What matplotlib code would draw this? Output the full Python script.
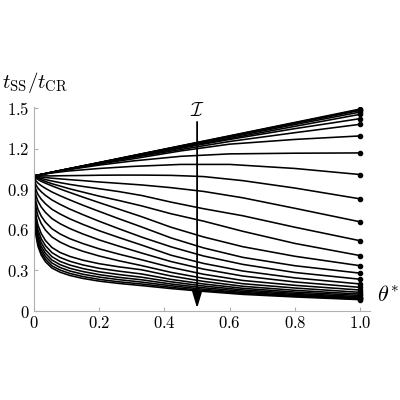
import matplotlib
matplotlib.use("Agg")
import matplotlib.pyplot as plt

plt.rcParams['mathtext.fontset'] = 'cm'
plt.rcParams['font.family'] = 'serif'
plt.rcParams['font.serif'] = ['DejaVu Serif']

# theta* positions for the curves ending above 1 (they are almost straight)
theta_up = [0, 0.003, 0.01, 0.025, 0.05, 0.1, 0.2, 0.3, 0.45, 0.6, 0.8, 1.0]

upper_curves = [
    [1, 1.0015, 1.005, 1.012, 1.025, 1.05, 1.099, 1.149, 1.223, 1.297, 1.396, 1.495],
    [1, 1.0015, 1.005, 1.012, 1.025, 1.05, 1.099, 1.148, 1.222, 1.295, 1.393, 1.49],
    [1, 1.0015, 1.005, 1.012, 1.025, 1.05, 1.098, 1.147, 1.22, 1.292, 1.389, 1.485],
    [1, 1.0015, 1.005, 1.012, 1.025, 1.049, 1.097, 1.145, 1.216, 1.286, 1.38, 1.473],
    [1, 1.0015, 1.005, 1.012, 1.024, 1.049, 1.096, 1.142, 1.21, 1.277, 1.367, 1.456],
    [1, 1.0015, 1.005, 1.012, 1.024, 1.048, 1.094, 1.14, 1.205, 1.27, 1.35, 1.424],
    [1, 1.0015, 1.005, 1.012, 1.024, 1.047, 1.091, 1.135, 1.195, 1.255, 1.32, 1.382],
    [1, 1.0015, 1.005, 1.012, 1.023, 1.046, 1.088, 1.125, 1.185, 1.235, 1.27, 1.296],
    [1, 1.001, 1.005, 1.012, 1.023, 1.044, 1.08, 1.11, 1.145, 1.163, 1.168, 1.17],
    [1, 1.001, 1.004, 1.01, 1.02, 1.035, 1.055, 1.07, 1.085, 1.085, 1.055, 1.01],
]

# theta* positions for the curves ending below 1 (denser near 0, they drop fast)
theta_low = [0, 0.002, 0.006, 0.012, 0.022, 0.035, 0.055, 0.08, 0.11, 0.15,
             0.2, 0.26, 0.33, 0.42, 0.52, 0.64, 0.8, 1.0]

lower_curves = [
    [1, 1.0, 1.0, 1.0, 1.0, 1.0, 1.0, 1.001, 1.002, 1.003, 1.005, 1.006, 1.006, 1.004, 0.995, 0.965, 0.91, 0.83],
    [1, 0.999, 0.997, 0.995, 0.992, 0.988, 0.983, 0.978, 0.972, 0.965, 0.955, 0.945, 0.933, 0.913, 0.885, 0.838, 0.76, 0.66],
    [1, 0.998, 0.994, 0.989, 0.982, 0.973, 0.962, 0.95, 0.937, 0.922, 0.905, 0.884, 0.855, 0.806, 0.757, 0.705, 0.62, 0.52],
    [1, 0.997, 0.991, 0.983, 0.972, 0.959, 0.942, 0.925, 0.904, 0.88, 0.85, 0.818, 0.778, 0.72, 0.665, 0.59, 0.50, 0.41],
    [1, 0.991, 0.982, 0.973, 0.960, 0.946, 0.926, 0.903, 0.877, 0.843, 0.802, 0.754, 0.698, 0.62, 0.548, 0.476, 0.405, 0.335],
    [1, 0.980, 0.963, 0.947, 0.928, 0.908, 0.881, 0.853, 0.822, 0.783, 0.737, 0.683, 0.622, 0.541, 0.467, 0.397, 0.335, 0.28],
    [1, 0.963, 0.934, 0.910, 0.883, 0.856, 0.822, 0.789, 0.754, 0.713, 0.664, 0.609, 0.547, 0.475, 0.407, 0.345, 0.285, 0.235],
    [1, 0.940, 0.897, 0.863, 0.828, 0.794, 0.753, 0.718, 0.682, 0.641, 0.594, 0.544, 0.488, 0.413, 0.352, 0.296, 0.245, 0.20],
    [1, 0.915, 0.856, 0.813, 0.770, 0.730, 0.684, 0.646, 0.610, 0.570, 0.526, 0.480, 0.429, 0.366, 0.31, 0.259, 0.215, 0.175],
    [1, 0.884, 0.808, 0.754, 0.703, 0.658, 0.609, 0.570, 0.535, 0.499, 0.460, 0.421, 0.379, 0.323, 0.272, 0.226, 0.19, 0.155],
    [1, 0.855, 0.765, 0.704, 0.648, 0.599, 0.548, 0.510, 0.476, 0.442, 0.407, 0.372, 0.336, 0.286, 0.242, 0.202, 0.17, 0.138],
    [1, 0.816, 0.707, 0.637, 0.574, 0.522, 0.470, 0.433, 0.404, 0.376, 0.350, 0.327, 0.305, 0.259, 0.219, 0.183, 0.153, 0.125],
    [1, 0.792, 0.675, 0.601, 0.536, 0.484, 0.432, 0.396, 0.368, 0.341, 0.316, 0.295, 0.274, 0.234, 0.20, 0.168, 0.14, 0.115],
    [1, 0.771, 0.647, 0.571, 0.506, 0.453, 0.402, 0.367, 0.340, 0.314, 0.290, 0.270, 0.250, 0.216, 0.185, 0.156, 0.13, 0.106],
    [1, 0.752, 0.623, 0.545, 0.479, 0.427, 0.377, 0.343, 0.316, 0.292, 0.269, 0.249, 0.231, 0.20, 0.172, 0.146, 0.122, 0.099],
    [1, 0.733, 0.600, 0.521, 0.455, 0.404, 0.355, 0.322, 0.296, 0.272, 0.251, 0.232, 0.214, 0.187, 0.161, 0.137, 0.115, 0.093],
    [1, 0.716, 0.578, 0.499, 0.433, 0.383, 0.334, 0.303, 0.278, 0.255, 0.234, 0.216, 0.200, 0.175, 0.152, 0.13, 0.109, 0.088],
    [1, 0.70, 0.56, 0.48, 0.415, 0.365, 0.318, 0.287, 0.263, 0.241, 0.221, 0.204, 0.188, 0.166, 0.145, 0.123, 0.104, 0.084],
]

xticks = [0, 0.2, 0.4, 0.6, 0.8, 1.0]
xticklabels = ['0', '0.2', '0.4', '0.6', '0.8', '1.0']
yticks = [0, 0.3, 0.6, 0.9, 1.2, 1.5]
yticklabels = ['0', '0.3', '0.6', '0.9', '1.2', '1.5']

fig = plt.figure(figsize=(4, 4), dpi=100)
ax = fig.add_axes([0.085, 0.2225, 0.84, 0.51])

for vals in upper_curves:
    ax.plot(theta_up, vals, color='black', lw=1.15, solid_joinstyle='round')
    ax.plot(theta_up[-1], vals[-1], 'o', color='black', ms=3.2, mew=0.8)
for vals in lower_curves:
    ax.plot(theta_low, vals, color='black', lw=1.15, solid_joinstyle='round')
    ax.plot(theta_low[-1], vals[-1], 'o', color='black', ms=3.2, mew=0.8)

# arrow for increasing I
ax.annotate('', xy=(0.5, 0.0), xytext=(0.5, 1.42),
            arrowprops=dict(arrowstyle='-|>,head_length=1.0,head_width=0.3',
                            color='black', lw=1.3))
ax.text(0.5, 1.48, r'$\mathcal{I}$', ha='center', va='center', fontsize=14)

ax.set_xlim(0, 1.03)
ax.set_ylim(0, 1.51)
ax.set_xticks(xticks)
ax.set_xticklabels(['$' + s + '$' for s in xticklabels])
ax.set_yticks(yticks)
ax.set_yticklabels(['$' + s + '$' for s in yticklabels])
ax.tick_params(direction='in', length=3, width=0.8, color='#b0b0b0',
               labelsize=12, pad=3)
for side in ['top', 'right']:
    ax.spines[side].set_visible(False)
for side in ['left', 'bottom']:
    ax.spines[side].set_color('#b0b0b0')
    ax.spines[side].set_linewidth(0.8)

fig.text(0.005, 0.78, r'$t_{\mathrm{SS}}/t_{\mathrm{CR}}$', fontsize=15,
         ha='left', va='baseline')
fig.text(0.942, 0.26, r'$\theta^{*}$', fontsize=16, ha='left', va='center')

fig.savefig('out.png', dpi=100)
